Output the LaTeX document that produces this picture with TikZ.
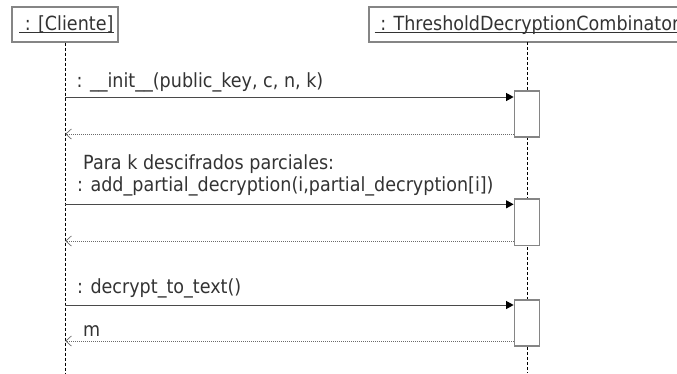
\documentclass[tikz,border=0pt]{standalone}
\usepackage{fontspec}
\setmainfont{DejaVu Sans}[FakeStretch=0.9]
\usetikzlibrary{arrows.meta}
\definecolor{txt}{HTML}{333333}
\definecolor{boxc}{HTML}{858585}
\definecolor{linec}{HTML}{4A4A4A}
\definecolor{retc}{HTML}{6A6A6A}
\begin{document}
\begin{tikzpicture}[x=1pt,y=-1pt,
  every node/.style={font=\fontsize{19.5}{22}\selectfont, text=txt},
  head/.style={draw=boxc, line width=1.4pt, fill=white, inner sep=0pt},
  lbl/.style={anchor=base west, inner sep=0pt},
  lifeline/.style={draw=black, line width=0.7pt, dash pattern=on 3pt off 2pt},
  act/.style={draw=boxc, line width=1.3pt, fill=white, minimum width=25.5pt, minimum height=46pt, inner sep=0pt},
  call/.style={draw=linec, line width=1pt, -{Triangle[length=7.5pt,width=8pt,fill=black,color=black]}},
  ret/.style={draw=retc, line width=0.8pt, dash pattern=on 1pt off 1pt, -{Straight Barb[length=5.5pt,width=10pt,line width=0.7pt]}, shorten >=0.3pt}
]
\useasboundingbox (0,0) rectangle (677,373);
\clip (0,0) rectangle (677,373);
\fill[white] (0,0) rectangle (677,373);

% heads
\node[head, minimum width=106pt, minimum height=35pt] (cli) at (65,24.5) {};
\node[head, minimum width=331pt, minimum height=35pt] (thr) at (534.5,24.5) {};
\node[lbl] (clil) at (19,30) {\ : [Cliente]};
\node[lbl] (thrl) at (374.5,30) {\ : ThresholdDecryptionCombinator};
\draw[txt, line width=0.9pt] ([yshift=-2.7pt]clil.base west) -- ([yshift=-2.7pt]clil.base east);
\draw[txt, line width=0.9pt] ([yshift=-2.7pt]thrl.base west) -- ([yshift=-2.7pt]thrl.base east);

% lifelines
\coordinate (thtop) at (527,42);
\coordinate (cliend) at (65,373);
\coordinate (thend) at (527,373);
\draw[lifeline] (cli.south) -- (cliend);
\draw[lifeline] (thtop) -- (thend);

% activations
\node[act] (a1) at (527,113.9) {};
\node[act, minimum height=46.7pt] (a2) at (527,222.3) {};
\node[act] (a3) at (527,323) {};

% message coordinates on client lifeline
\coordinate (c1) at (65,97);
\coordinate (r1) at (65,134);
\coordinate (c2) at (65,204.3);
\coordinate (r2) at (65,241);
\coordinate (c3) at (65,305);
\coordinate (r3) at (65,341);

\draw[call] (c1) -- (c1 -| a1.west);
\draw[ret] (r1 -| a1.west) -- (r1);
\draw[call] (c2) -- (c2 -| a2.west);
\draw[ret] (r2 -| a2.west) -- (r2);
\draw[call] (c3) -- (c3 -| a3.west);
\draw[ret] (r3 -| a3.west) -- (r3);

% labels
\node[lbl] (m1) at (76.5,87) {: \_\_init\_\_(public\_key, c, n, k)};
\node[lbl] (m2a) at (83,169) {Para k descifrados parciales:};
\node[lbl] (m2b) at (77,191.5) {: add\_partial\_decryption(i,partial\_decryption[i])};
\node[lbl] (m3) at (77,293.5) {: decrypt\_to\_text()};
\node[lbl] (m4) at (83,336) {m};
\end{tikzpicture}
\end{document}
